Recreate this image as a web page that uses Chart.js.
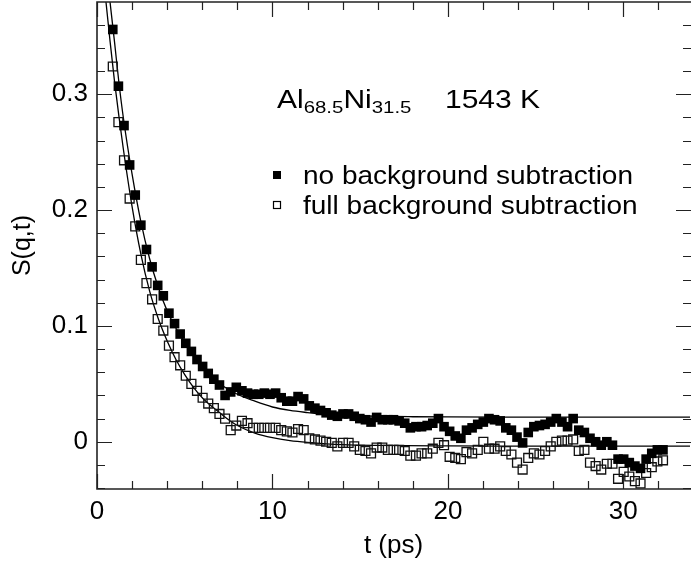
<!DOCTYPE html>
<html>
<head>
<meta charset="utf-8">
<script src="https://cdn.jsdelivr.net/npm/chart.js@4.4.1/dist/chart.umd.min.js"></script>
<style>
  body { margin: 0; background: #fff; }
</style>
</head>
<body>
<canvas id="chart" width="691" height="567"></canvas>
<script>
// time axis (ps)
const times = [0.90, 1.22, 1.54, 1.86, 2.18, 2.50, 2.82, 3.14, 3.46, 3.78,
  4.10, 4.42, 4.74, 5.06, 5.38, 5.70, 6.02, 6.34, 6.66, 6.98,
  7.30, 7.62, 7.94, 8.26, 8.58, 8.90, 9.22, 9.54, 9.86, 10.18,
  10.50, 10.82, 11.14, 11.46, 11.78, 12.10, 12.42, 12.74, 13.06, 13.38,
  13.70, 14.02, 14.34, 14.66, 14.98, 15.30, 15.62, 15.94, 16.26, 16.58,
  16.90, 17.22, 17.54, 17.86, 18.18, 18.50, 18.82, 19.14, 19.46, 19.78,
  20.10, 20.42, 20.74, 21.06, 21.38, 21.70, 22.02, 22.34, 22.66, 22.98,
  23.30, 23.62, 23.94, 24.26, 24.58, 24.90, 25.22, 25.54, 25.86, 26.18,
  26.50, 26.82, 27.14, 27.46, 27.78, 28.10, 28.42, 28.74, 29.06, 29.38,
  29.70, 30.02, 30.34, 30.66, 30.98, 31.30, 31.62, 31.94, 32.26];

// S(q,t), no background subtraction (filled squares)
const noBg = [0.356, 0.307, 0.273, 0.239, 0.213, 0.187, 0.166, 0.151, 0.135, 0.126,
  0.111, 0.102, 0.093, 0.085, 0.078, 0.071, 0.065, 0.059, 0.054, 0.049,
  0.040, 0.043, 0.047, 0.044, 0.042, 0.041, 0.041, 0.042, 0.041, 0.042,
  0.038, 0.035, 0.035, 0.039, 0.037, 0.031, 0.029, 0.027, 0.025, 0.023,
  0.022, 0.024, 0.024, 0.022, 0.020, 0.019, 0.017, 0.021, 0.019, 0.019,
  0.019, 0.018, 0.016, 0.012, 0.013, 0.013, 0.014, 0.016, 0.020, 0.013,
  0.009, 0.005, 0.003, 0.010, 0.012, 0.015, 0.017, 0.020, 0.019, 0.018,
  0.012, 0.010, 0.004, -0.001, 0.008, 0.013, 0.014, 0.015, 0.017, 0.020,
  0.017, 0.013, 0.020, 0.010, 0.008, 0.003, 0.000, -0.003, 0.000, -0.003,
  -0.015, -0.015, -0.018, -0.021, -0.023, -0.015, -0.010, -0.007, -0.007];

// S(q,t), full background subtraction (open squares)
const fullBg = [0.324, 0.276, 0.243, 0.210, 0.186, 0.157, 0.137, 0.123, 0.106, 0.096,
  0.083, 0.073, 0.066, 0.057, 0.050, 0.044, 0.038, 0.033, 0.029, 0.024,
  0.020, 0.010, 0.014, 0.018, 0.016, 0.012, 0.012, 0.012, 0.012, 0.012,
  0.010, 0.009, 0.008, 0.011, 0.010, 0.003, 0.002, 0.001, 0.000, -0.001,
  -0.004, -0.001, -0.001, -0.004, -0.007, -0.008, -0.010, -0.005, -0.005, -0.007,
  -0.007, -0.007, -0.008, -0.012, -0.012, -0.010, -0.010, -0.006, -0.001, -0.003,
  -0.013, -0.014, -0.015, -0.009, -0.010, -0.007, 0.000, -0.006, -0.006, -0.004,
  -0.008, -0.011, -0.018, -0.024, -0.014, -0.010, -0.011, -0.008, -0.004, 0.000,
  0.001, 0.001, 0.002, -0.008, -0.007, -0.018, -0.021, -0.024, -0.019, -0.019,
  -0.032, -0.026, -0.030, -0.034, -0.036, -0.027, -0.022, -0.017, -0.016];

// fit curves
const fitNoBgT = [0.74, 1.0, 1.25, 1.5, 2.0, 2.5, 3.0, 3.5, 4.0, 4.5, 5.0, 5.5, 6.0, 6.5, 7.0,
  8.0, 9.0, 10.0, 11.0, 12.0, 13.0, 14.0, 16.0, 18.0, 20.0, 25.0, 33.8];
const fitNoBg = [0.380, 0.345, 0.310, 0.280, 0.231, 0.190, 0.158, 0.133, 0.113, 0.098, 0.086, 0.075, 0.066, 0.057, 0.050,
  0.041, 0.035, 0.030, 0.027, 0.0252, 0.0238, 0.0229, 0.0220, 0.0216, 0.0214, 0.0213, 0.0213];
const fitFullBgT = [0.51, 0.75, 1.0, 1.25, 1.5, 2.0, 2.5, 3.0, 3.5, 4.0, 4.5, 5.0, 5.5, 6.0, 6.5,
  7.0, 7.5, 8.0, 9.0, 10.0, 11.0, 12.0, 14.0, 16.0, 20.0, 25.0, 33.8];
const fitFullBg = [0.380, 0.345, 0.311, 0.281, 0.253, 0.203, 0.162, 0.130, 0.106, 0.087, 0.071, 0.058, 0.047, 0.038, 0.031,
  0.025, 0.019, 0.014, 0.0075, 0.0035, 0.0010, -0.0005, -0.0025, -0.0032, -0.0036, -0.0037, -0.0037];

// ticks
const xTickLabels = [0, 10, 20, 30];
const yTickLabels = [0, 0.1, 0.2, 0.3];
const xMinorStep = 2;
const yMinorStep = 0.02;

const FONT = "'Liberation Sans', Arial, Helvetica, sans-serif";

const toPoints = (xs, ys) => xs.map((x, i) => ({ x: x, y: ys[i] }));

// inward ticks on all four sides + frame (right edge falls off the picture)
const frameTicks = {
  id: 'frameTicks',
  afterDraw(chart) {
    const { ctx, chartArea: a, scales: { x, y } } = chart;
    ctx.save();
    ctx.strokeStyle = '#222';
    ctx.lineWidth = 1.2;
    ctx.beginPath();
    for (let v = x.min; v <= x.max + 1e-9; v += xMinorStep) {
      const major = xTickLabels.some(t => Math.abs(t - v) < 1e-6);
      const len = major ? 15 : 8;
      const px = Math.round(x.getPixelForValue(v)) + 0.5;
      ctx.moveTo(px, a.bottom); ctx.lineTo(px, a.bottom - len);
      ctx.moveTo(px, a.top); ctx.lineTo(px, a.top + len);
    }
    for (let v = -0.04; v <= y.max + 1e-9; v += yMinorStep) {
      const major = yTickLabels.some(t => Math.abs(t - v) < 1e-6);
      const len = major ? 15 : 8;
      const py = Math.round(y.getPixelForValue(v)) + 0.5;
      ctx.moveTo(a.left, py); ctx.lineTo(a.left + len, py);
      ctx.moveTo(a.right + 1, py); ctx.lineTo(a.right + 1 - len, py);
    }
    ctx.stroke();
    ctx.lineWidth = 1.6;
    ctx.beginPath();
    ctx.moveTo(a.right + 1, a.top);
    ctx.lineTo(a.left, a.top);
    ctx.lineTo(a.left, a.bottom);
    ctx.lineTo(a.right + 1, a.bottom);
    ctx.stroke();
    ctx.restore();
  }
};

// composition label and legend
function stretched(ctx, parts, x, y, sx) {
  ctx.save();
  ctx.translate(x, y);
  ctx.scale(sx, 1);
  let cx = 0;
  parts.forEach(p => {
    ctx.font = p.size + 'px ' + FONT;
    ctx.fillText(p.text, cx, p.dy || 0);
    cx += ctx.measureText(p.text).width;
  });
  ctx.restore();
}

const annotations = {
  id: 'annotations',
  afterDraw(chart) {
    const ctx = chart.ctx;
    ctx.save();
    ctx.fillStyle = '#000';
    ctx.textBaseline = 'alphabetic';
    stretched(ctx, [
      { text: 'Al', size: 25 },
      { text: '68.5', size: 17, dy: 5 },
      { text: 'Ni', size: 25 },
      { text: '31.5', size: 17, dy: 5 }
    ], 277, 108, 1.2);
    stretched(ctx, [{ text: '1543 K', size: 25 }], 445, 108, 1.2);
    // legend
    ctx.fillRect(273, 171, 8, 8);
    ctx.strokeStyle = '#000';
    ctx.lineWidth = 1.2;
    ctx.strokeRect(273.5, 201.5, 7, 7);
    stretched(ctx, [{ text: 'no background subtraction', size: 25 }], 303, 184, 1.12);
    stretched(ctx, [{ text: 'full background subtraction', size: 25 }], 303, 214, 1.12);
    ctx.restore();
  }
};

new Chart(document.getElementById('chart'), {
  type: 'scatter',
  data: {
    datasets: [
      {
        label: 'no background subtraction',
        data: toPoints(times, noBg),
        pointStyle: 'rect',
        pointRadius: 6.8,
        backgroundColor: '#000',
        borderWidth: 0
      },
      {
        label: 'full background subtraction',
        data: toPoints(times, fullBg),
        pointStyle: 'rect',
        pointRadius: 6.3,
        backgroundColor: 'rgba(0,0,0,0)',
        borderColor: '#111',
        borderWidth: 1.3
      },
      {
        label: 'fit no bg',
        data: toPoints(fitNoBgT, fitNoBg),
        showLine: true,
        pointRadius: 0,
        borderColor: '#000',
        borderWidth: 1.3,
        cubicInterpolationMode: 'monotone'
      },
      {
        label: 'fit full bg',
        data: toPoints(fitFullBgT, fitFullBg),
        showLine: true,
        pointRadius: 0,
        borderColor: '#000',
        borderWidth: 1.3,
        cubicInterpolationMode: 'monotone'
      }
    ]
  },
  options: {
    responsive: false,
    animation: false,
    devicePixelRatio: 1,
    layout: { autoPadding: false, padding: { left: 0, right: 1, top: 2, bottom: 0 } },
    plugins: {
      legend: { display: false },
      tooltip: { enabled: false }
    },
    scales: {
      x: {
        type: 'linear',
        min: 0,
        max: 33.8,
        grid: { display: false, drawTicks: false },
        border: { display: false },
        afterBuildTicks: s => { s.ticks = xTickLabels.map(v => ({ value: v })); },
        ticks: {
          color: '#000',
          font: { family: FONT, size: 26 },
          padding: 7,
          maxRotation: 0,
          autoSkip: false,
          callback: v => String(v)
        },
        title: {
          display: true,
          text: 't (ps)',
          color: '#000',
          font: { family: FONT, size: 26 },
          padding: { top: 0, bottom: 6 }
        },
        afterFit: s => {
          s.height = 78;
          s.paddingLeft = 0; s.paddingRight = 0;
        }
      },
      y: {
        type: 'linear',
        min: -0.0408,
        max: 0.3797,
        grid: { display: false, drawTicks: false },
        border: { display: false },
        afterBuildTicks: s => { s.ticks = yTickLabels.map(v => ({ value: v })); },
        ticks: {
          color: '#000',
          font: { family: FONT, size: 26 },
          padding: 9,
          autoSkip: false,
          callback: v => String(v)
        },
        title: {
          display: true,
          text: 'S(q,t)',
          color: '#000',
          font: { family: FONT, size: 25 },
          padding: { top: 8, bottom: 0 }
        },
        afterFit: s => {
          s.width = 97;
          s.paddingTop = 0; s.paddingBottom = 0;
        }
      }
    }
  },
  plugins: [frameTicks, annotations]
});
</script>
</body>
</html>
